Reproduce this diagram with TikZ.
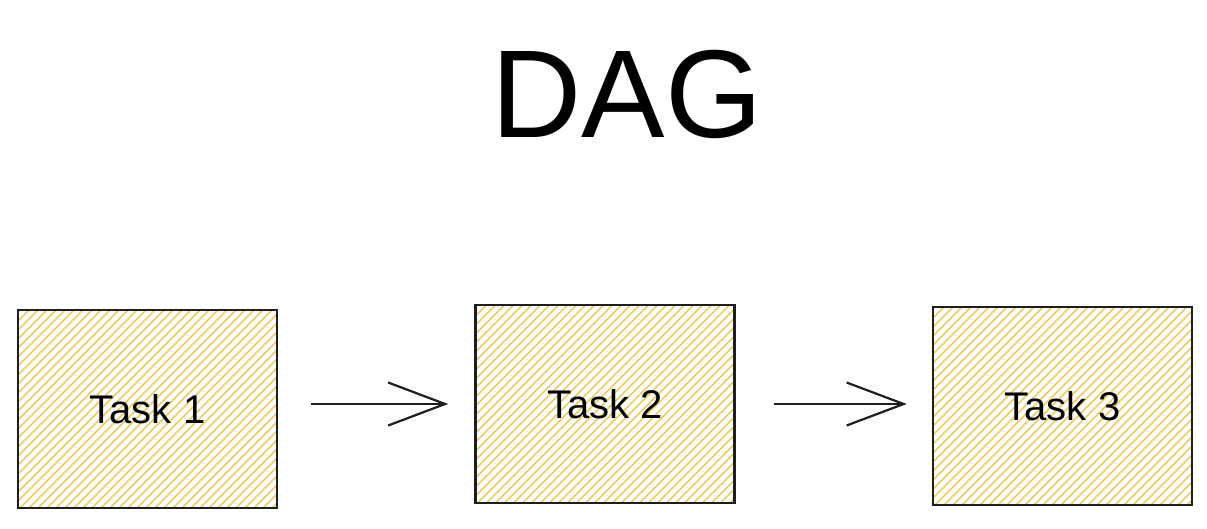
\documentclass[tikz,border=0pt]{standalone}
\usepackage{fontspec}
\setmainfont{Liberation Sans}
\usepackage{xcolor}
\usetikzlibrary{positioning, arrows.meta}

\definecolor{hatch}{RGB}{240,202,100}
\definecolor{ink}{RGB}{30,30,30}

\begin{document}
\begin{tikzpicture}[
    x=1pt, y=-1pt,
    node distance=196pt,
    task/.style={
        rectangle,
        minimum width=259pt,
        minimum height=198pt,
        align=center,
        draw=ink,
        line width=2.5pt,
        path picture={
            \foreach \k in {-205,-196,...,265}
                \draw[hatch, line width=1.5pt]
                    ([xshift=\k pt]path picture bounding box.south west) -- ++(210pt,210pt);
        },
        font=\fontsize{40}{44}\selectfont
    },
    arrow/.style={line width=2.2pt, draw=ink, -{Straight Barb[length=57pt,width=43pt,line width=2.2pt]}}
]
\useasboundingbox (0,0) rectangle (1207,528);

% Title
\node (title) at (627,94) {\fontsize{125}{135}\selectfont DAG};

% Nodes
\node (t1) [task] at (147.5,409) {Task 1};
\node (t2) [task, right=of t1, yshift=5pt] {Task 2};
\node (t3) [task, right=of t2, yshift=-2pt] {Task 3};

% Arrows
\draw [arrow, shorten <=33pt, shorten >=26pt] (t1.east |- t2.west) -- (t2.west);
\draw [arrow, shorten <=38pt, shorten >=25pt] (t2.east) -- (t2.east -| t3.west);

\end{tikzpicture}
\end{document}
